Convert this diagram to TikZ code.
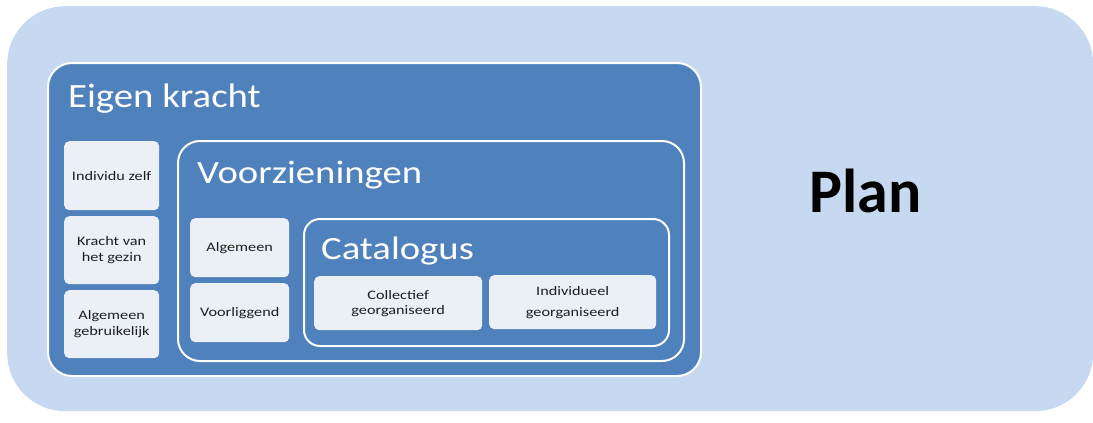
\documentclass[tikz,border=0pt]{standalone}
\usepackage{fontspec}
\setmainfont{Carlito}
\newfontfamily\ektitlefont[FakeStretch=1.14]{Carlito}
\newfontfamily\subtitlefont[FakeStretch=1.19]{Carlito}
\newfontfamily\leaffont[FakeStretch=1.25]{Carlito}
\definecolor{outerblue}{HTML}{C6D9F0}
\definecolor{midblue}{HTML}{4F81BD}
\definecolor{paleblue}{HTML}{EBF0F7}
\definecolor{txt}{HTML}{1E1E1E}
\begin{document}
\begin{tikzpicture}[x=1pt,y=-1pt,
  container/.style={draw=white, line width=2pt, fill=midblue, anchor=north west, inner sep=0pt},
  leaf/.style={fill=paleblue, rounded corners=5pt, anchor=north west, inner sep=0pt, align=center, text=txt, font=\leaffont\fontsize{13}{16}\selectfont},
  title/.style={anchor=base west, inner sep=0pt, text=white, font=\subtitlefont\fontsize{32.5}{36}\selectfont}]
\useasboundingbox (0,0) rectangle (1093,423);
\node[fill=outerblue, rounded corners=58pt, anchor=north west, inner sep=0pt, minimum width=1086pt, minimum height=405pt] (outer) at (7,6) {};
\node[container, rounded corners=24pt, minimum width=653pt, minimum height=313pt] (ek) at (47,62) {};
\node[title, font=\ektitlefont\fontsize{34}{38}\selectfont] (ektitle) at (68,107) {Eigen kracht};
\node[leaf, minimum width=95pt, minimum height=69pt] (iz) at (64,141) {Individu zelf};
\node[leaf, minimum width=95pt, minimum height=68pt] (kg) at (64,216) {Kracht van\\het gezin};
\node[leaf, minimum width=95pt, minimum height=68pt] (ag) at (64,290) {Algemeen\\gebruikelijk};
\node[container, rounded corners=22pt, minimum width=506pt, minimum height=220pt] (vz) at (177,140) {};
\node[title] (vztitle) at (197,183) {Voorzieningen};
\node[leaf, minimum width=99pt, minimum height=59pt] (alg) at (190,218) {Algemeen};
\node[leaf, minimum width=99pt, minimum height=59pt] (vl) at (190,283) {Voorliggend};
\node[container, rounded corners=16pt, minimum width=365pt, minimum height=127pt] (cat) at (303,218) {};
\node[title] (cattitle) at (321,259) {Catalogus};
\node[leaf, minimum width=168pt, minimum height=54pt, font=\leaffont\fontsize{13}{15}\selectfont] (col) at (314,276) {Collectief\\georganiseerd};
\node[leaf, minimum width=167pt, minimum height=54pt, font=\leaffont\fontsize{13}{21}\selectfont] (ind) at (489,275) {Individueel\\georganiseerd};
\node[anchor=base west, inner sep=0pt, font=\fontsize{62}{70}\selectfont\bfseries, text=black] (plan) at (809,212) {Plan};
\end{tikzpicture}
\end{document}
